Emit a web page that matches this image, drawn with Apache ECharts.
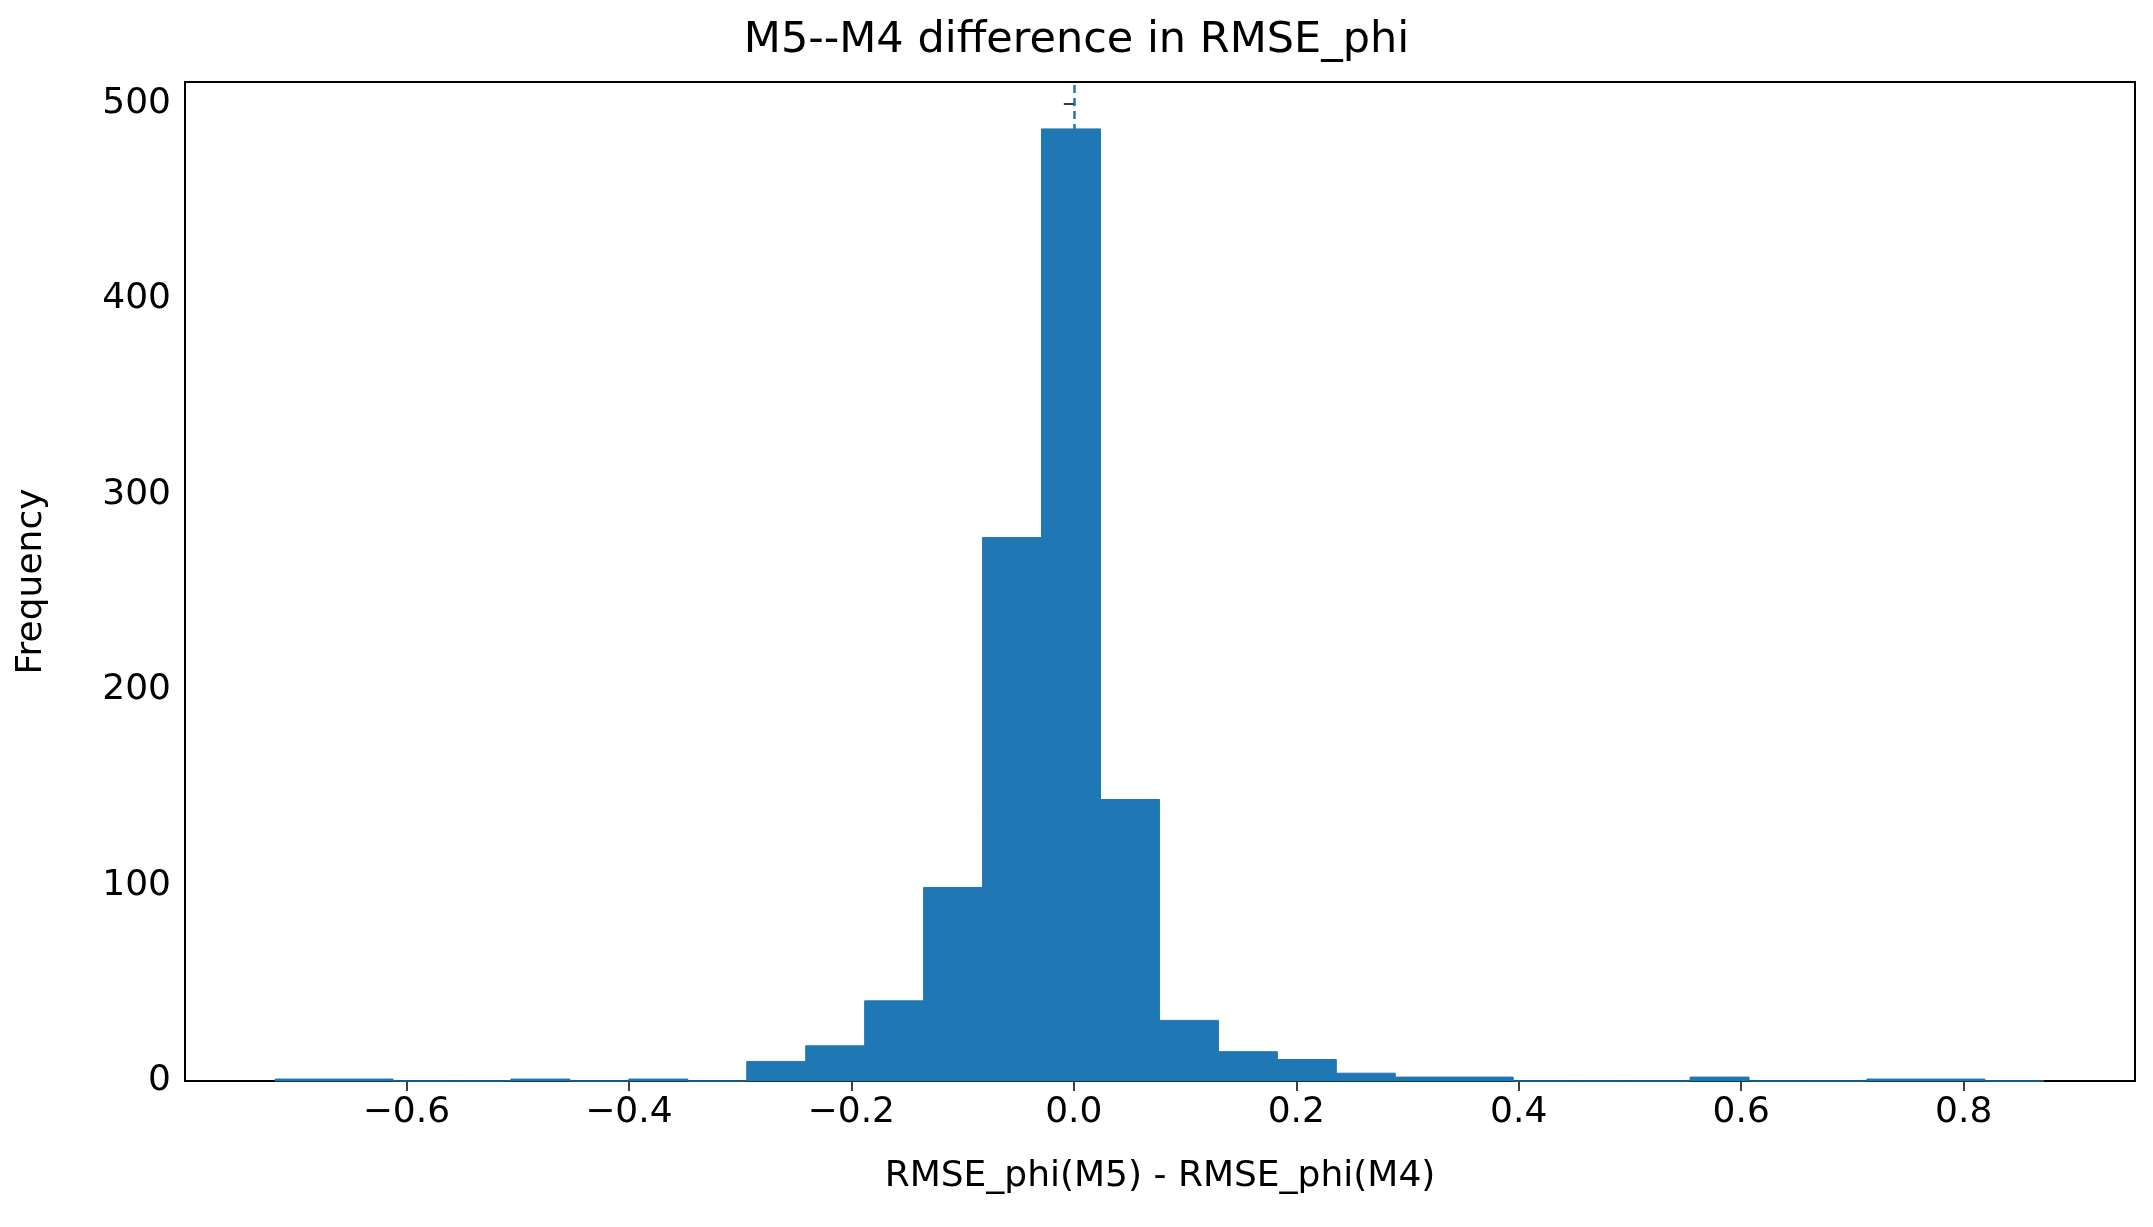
<!DOCTYPE html>
<html>
<head>
<meta charset="utf-8">
<script src="https://cdn.jsdelivr.net/npm/echarts@6/dist/echarts.min.js"></script>
<style>html,body{margin:0;padding:0;background:#fff}#c{width:2153px;height:1227px}</style>
</head>
<body>
<div id="c"></div>
<script>
// histogram bins: start, width, counts
const binStart = -0.718;
const binWidth = 0.053;
const counts = [1,1,0,0,1,0,1,0,10,18,41,99,278,487,144,31,15,11,4,2,2,0,0,0,2,0,0,1,1,0];
const xTicks = [-0.6,-0.4,-0.2,0.0,0.2,0.4,0.6,0.8];
const yTicks = [0,100,200,300,400,500];

const bins = counts.map((c,i)=>[binStart+i*binWidth, binStart+(i+1)*binWidth, c]);
const fmt = v => (v<0?'\u2212':'') + Math.abs(v).toFixed(1);
const font = 'DejaVu Sans';

const chart = echarts.init(document.getElementById('c'));
chart.setOption({
    backgroundColor:'#fff',
    animation:false,
    title:{
        text:'M5--M4 difference in RMSE_phi',
        left:'center', top:14,
        textStyle:{fontFamily:font,fontSize:43,fontWeight:'normal',color:'#000'}
    },
    grid:{left:185,right:18,top:82,bottom:146,show:true,borderColor:'#000',borderWidth:2},
    xAxis:{
        type:'value', min:-0.799, max:0.954,
        name:'RMSE_phi(M5) - RMSE_phi(M4)', nameLocation:'middle', nameGap:78,
        nameTextStyle:{fontFamily:font,fontSize:36,color:'#000'},
        axisLine:{show:false}, splitLine:{show:false},
        axisTick:{show:true,length:10,lineStyle:{color:'#000',width:1.5},customValues:xTicks},
        axisLabel:{fontFamily:font,fontSize:36,color:'#000',margin:14,customValues:xTicks,formatter:fmt}
    },
    yAxis:{
        type:'value', min:0, max:511,
        name:'Frequency', nameLocation:'middle', nameGap:135,
        nameTextStyle:{fontFamily:font,fontSize:36,color:'#000'},
        axisLine:{show:false}, splitLine:{show:false},
        axisTick:{show:true,length:10,lineStyle:{color:'#000',width:1.5},customValues:yTicks},
        axisLabel:{fontFamily:font,fontSize:36,color:'#000',margin:14,customValues:yTicks}
    },
    series:[{
        type:'custom',
        data:bins,
        renderItem:(params,api)=>{
            const p0 = api.coord([api.value(0),api.value(2)]);
            const p1 = api.coord([api.value(1),0]);
            return {type:'rect',shape:{x:p0[0],y:p0[1],width:p1[0]-p0[0],height:p1[1]-p0[1]},
                style:{fill:'#1f77b4',stroke:'#1f77b4',lineWidth:1}};
        },
        encode:{x:[0,1],y:2},
        markLine:{
            silent:true, symbol:['none','none'], z:-1,
            lineStyle:{color:'#1f77b4',type:[8,5],width:2.5},
            label:{show:false},
            data:[[{coord:[0,0]},{coord:[0,511]}]]
        }
    }]
});
</script>
</body>
</html>
